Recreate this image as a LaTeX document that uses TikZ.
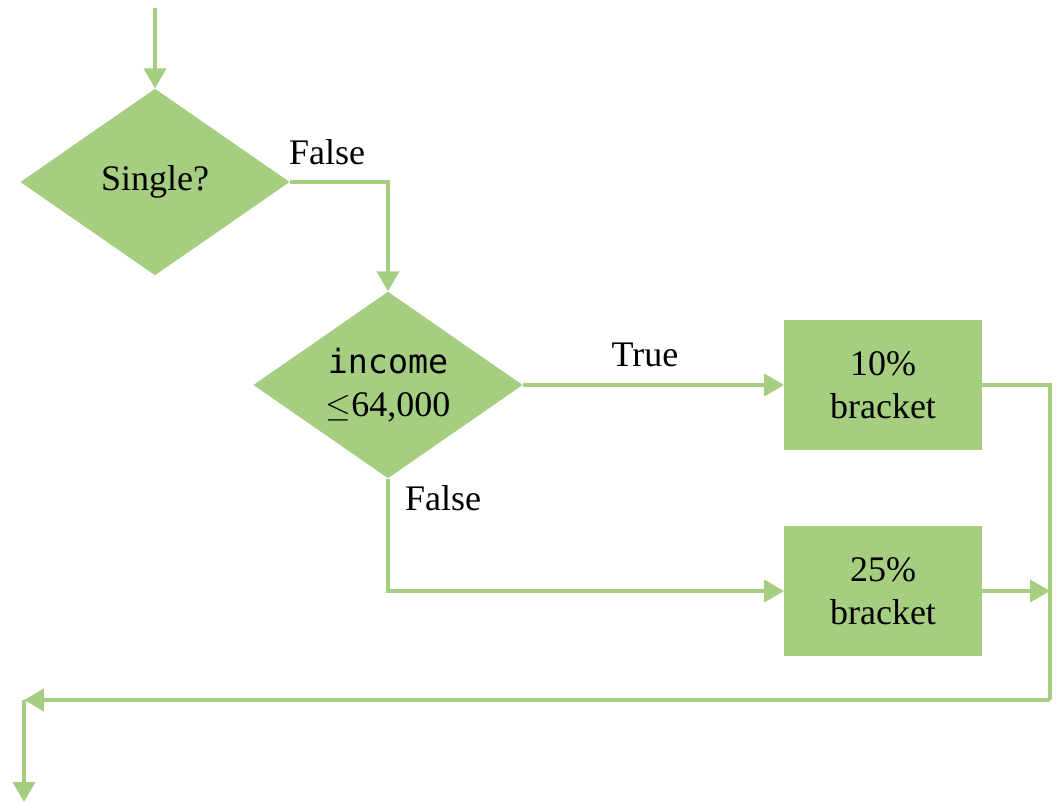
\documentclass[tikz,border=0pt]{standalone}
\usepackage{fontspec}
\setmainfont{Liberation Serif}
\setmonofont{DejaVu Sans Mono}
\usetikzlibrary{shapes.geometric,arrows.meta}
\definecolor{leaf}{HTML}{A6CE81}
\begin{document}
\begin{tikzpicture}[x=0.75pt,y=-0.75pt,
  flow/.style={draw=leaf,line width=3pt},
  arr/.style={flow,-{Triangle[length=15pt,width=16.5pt]}},
  decision/.style={diamond,fill=leaf,draw=none,inner sep=0pt,
    minimum width=202pt,minimum height=140pt,align=center,font=\fontsize{27}{33}\selectfont},
  bracketbox/.style={rectangle,fill=leaf,draw=none,minimum width=148pt,minimum height=98pt,
    align=center,font=\fontsize{27}{32}\selectfont},
  lbl/.style={font=\fontsize{27}{30}\selectfont,inner sep=0pt}]
\useasboundingbox (0,0) rectangle (1063,803);
% decisions and outcomes
\node[decision] (single) at (155,182) {Single?};
\node[decision,label={[align=center,font=\fontsize{27}{33}\selectfont]center:{\ttfamily\fontsize{25}{30}\selectfont income}\\[-1pt]$\leq$64,000}] (income) at (388,385) {};
\node[bracketbox] (b10) at (883,385) {10\%\\bracket};
\node[bracketbox] (b25) at (883,591) {25\%\\bracket};
% free ends of the flow
\coordinate (start) at (155,8);
\coordinate (c1) at (388,182);
\coordinate (c2) at (388,591);
\coordinate (r1) at (1050,385);
\coordinate (r2) at (1050,591);
\coordinate (r3) at (1050,700);
\coordinate (l1) at (24,700);
\coordinate (stop) at (24,802);
% connectors
\draw[arr] (start) -- (single.north);
\draw[arr] (single.east) -- (c1) -- (income.north);
\draw[arr] (income.east) -- (b10.west);
\draw[arr] (income.south) -- (c2) -- (b25.west);
\draw[flow] (b10.east) -- (r1) -- (r3);
\draw[arr] (b25.east) -- (r2);
\draw[arr] (r3) -- (l1);
\draw[arr] (l1) -- (stop);
% labels
\node[lbl] (lf1) at (327,152) {False};
\node[lbl] (lt) at (645,355) {True};
\node[lbl] (lf2) at (443,498) {False};
\end{tikzpicture}
\end{document}
